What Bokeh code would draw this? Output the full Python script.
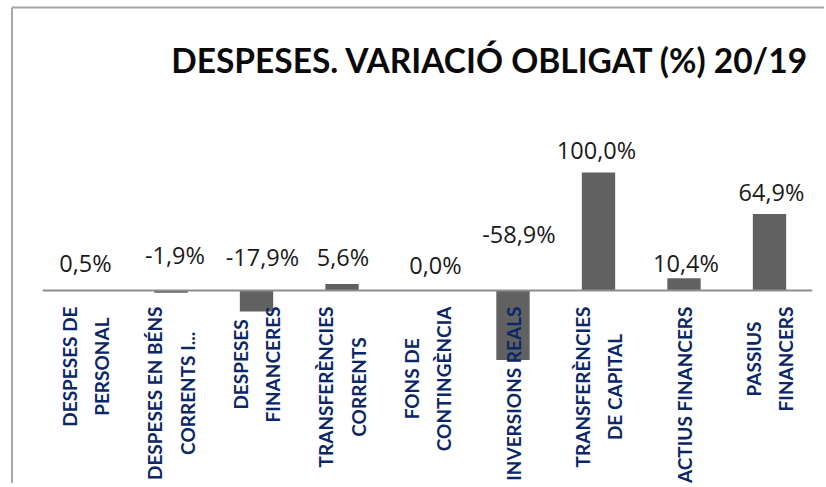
import math
from bokeh.plotting import figure
from bokeh.models import Range1d, ColumnDataSource
from bokeh.embed import file_html
from bokeh.resources import INLINE
from bokeh.core.properties import value

# ---------------- data ----------------
title_text = "Despeses. Variació Obligat (%)  20/19"
categories = [
    "Despeses de\npersonal",
    "Despeses en béns\ncorrents i...",
    "Despeses\nfinanceres",
    "Transferències\ncorrents",
    "Fons de\ncontingència",
    "Inversions reals",
    "Transferències\nde capital",
    "Actius financers",
    "Passius\nfinancers",
]
values = [0.5, -1.9, -17.9, 5.6, 0.0, -58.9, 100.0, 10.4, 64.9]
value_labels = ["0,5%", "-1,9%", "-17,9%", "5,6%", "0,0%", "-58,9%", "100,0%", "10,4%", "64,9%"]

# ---------------- layout (annotation positions, data units / px) ----------------
label_baseline = [23.7, 29.7, 28.0, 28.0, 21.2, 47.7, 118.7, 23.7, 83.1]
label_dx = [0, 4, 6, 1, 8, 6, -2, 2, 2]

W, H = 824, 483
CAT0_PX, CAT_STEP, ZERO_PX, PX_PER_UNIT = 85.0, 85.5, 290.0, 1.18


def cx(px):
    return (px - CAT0_PX) / CAT_STEP


def cy(py):
    return (ZERO_PX - py) / PX_PER_UNIT


idx = list(range(len(categories)))

p = figure(
    width=W, height=H,
    x_range=Range1d(cx(0), cx(W)),
    y_range=Range1d(cy(H), cy(0)),
    x_axis_type=None, y_axis_type=None,
    toolbar_location=None, output_backend="svg",
    min_border=0, min_border_left=0, min_border_right=0,
    min_border_top=0, min_border_bottom=0,
    outline_line_color=None, background_fill_color="white",
    border_fill_color="white",
)
p.grid.visible = False

# chart area border (left + top; the rest runs off the picture)
p.segment(x0=[cx(11.5)], y0=[cy(7)], x1=[cx(11.5)], y1=[cy(H + 5)],
          line_color="#a6a6a6", line_width=2)
p.segment(x0=[cx(11.5)], y0=[cy(7)], x1=[cx(W + 5)], y1=[cy(7)],
          line_color="#a6a6a6", line_width=2)

src = ColumnDataSource(dict(x=idx, top=values, lab=value_labels,
                            ly=label_baseline, dx=label_dx,
                            cat=[c.upper() for c in categories]))

p.vbar(x="x", top="top", bottom=0, width=0.39, source=src,
       fill_color="#616161", line_color=None)

# zero line
p.segment(x0=[-0.5], y0=[0], x1=[len(categories) - 0.5], y1=[0],
          line_color="#8e8e8e", line_width=2)

# value labels
p.text(x="x", y="ly", text="lab", x_offset="dx", source=src,
       text_font=value("Open Sans"), text_font_size="23.5px",
       text_color="#1a1a1a", text_align="center", text_baseline="alphabetic")

# category labels (rotated)
p.text(x="x", y=cy(306), text="cat", source=src, angle=math.pi / 2,
       anchor=value("center_right"),
       text_font=value("Lato"), text_font_style="bold", text_font_size="19px",
       text_color="#0c2766", text_align="center", text_line_height=1.42)

# title
p.text(x=[cx(817)], y=[cy(59)], text=[title_text.upper()],
       text_font=value("Lato"), text_font_style="bold", text_font_size="33.5px",
       text_color="#0a0a0a", text_align="right", text_baseline="alphabetic")

open("out.html", "w").write(file_html(p, INLINE))
